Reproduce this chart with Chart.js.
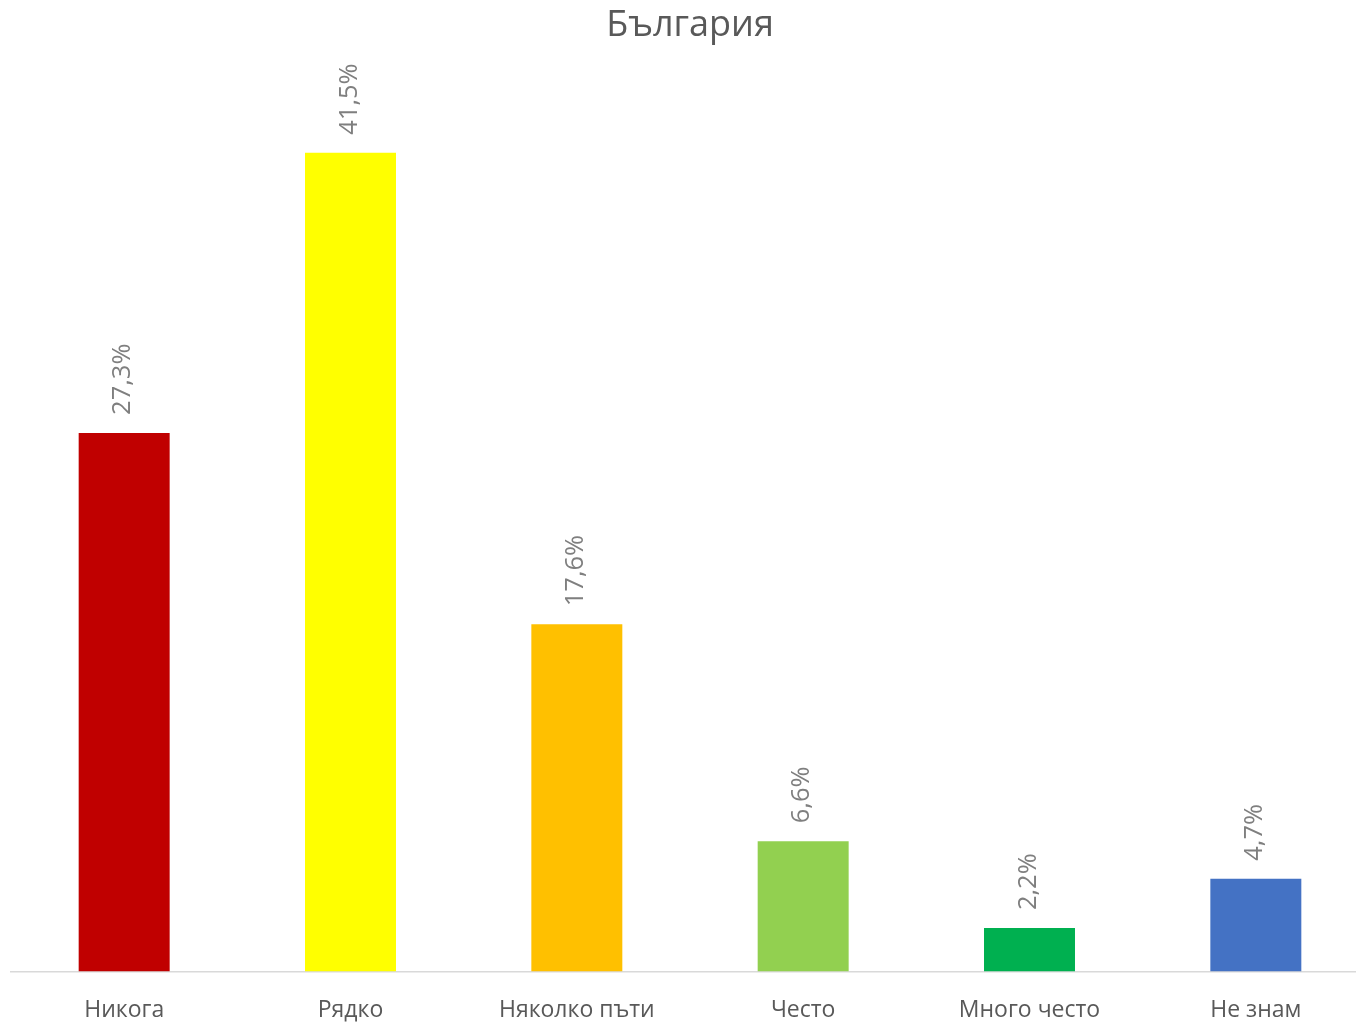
<!DOCTYPE html>
<html>
<head>
<meta charset="utf-8">
<script src="https://cdn.jsdelivr.net/npm/chart.js@4/dist/chart.umd.min.js"></script>
<style>
html, body { margin: 0; padding: 0; background: #fff; overflow: hidden; }
#wrap { position: relative; width: 1369px; height: 1022px; }
</style>
</head>
<body>
<div id="wrap"><canvas id="c" width="1369" height="1022"></canvas></div>
<script>
const categories = ["Никога", "Рядко", "Няколко пъти", "Често", "Много често", "Не знам"];
const values = [27.3, 41.5, 17.6, 6.6, 2.2, 4.7];
const barColors = ["#C00000", "#FFFF00", "#FFC000", "#92D050", "#00B050", "#4472C4"];
const titleText = "България";

const FONT = "'Open Sans', 'Noto Sans', sans-serif";

const labelPlugin = {
  id: 'rotLabels',
  afterDatasetsDraw(chart) {
    const ctx = chart.ctx;
    const meta = chart.getDatasetMeta(0);
    ctx.save();
    ctx.fillStyle = '#7F7F7F';
    ctx.font = "25.5px " + FONT;
    ctx.textAlign = 'left';
    ctx.textBaseline = 'middle';
    meta.data.forEach((bar, i) => {
      const txt = values[i].toFixed(1).replace('.', ',') + '%';
      ctx.save();
      ctx.translate(bar.x - 1, bar.y - 18);
      ctx.rotate(-Math.PI / 2);
      ctx.fillText(txt, 0, 0);
      ctx.restore();
    });
    ctx.restore();
  }
};

new Chart(document.getElementById('c'), {
  type: 'bar',
  data: {
    labels: categories,
    datasets: [{
      data: values,
      backgroundColor: barColors,
      borderWidth: 0,
      barPercentage: 1,
      categoryPercentage: 0.402
    }]
  },
  options: {
    responsive: false,
    animation: false,
    devicePixelRatio: 1,
    layout: { padding: { left: 11, right: 0, top: 0, bottom: 0 } },
    plugins: {
      legend: { display: false },
      tooltip: { enabled: false },
      title: {
        display: true,
        text: titleText,
        color: '#595959',
        font: { family: FONT, size: 36, weight: 'normal' },
        padding: { top: 4.5, bottom: 36 }
      }
    },
    scales: {
      x: {
        grid: { display: false, drawTicks: false },
        border: { display: true, color: '#D9D9D9', width: 1.5 },
        ticks: {
          color: '#595959',
          font: { family: FONT, size: 23 },
          padding: 25,
          maxRotation: 0,
          autoSkip: false
        },
        afterFit(scale) { scale.height = 50.5; }
      },
      y: {
        display: false,
        min: 0,
        max: 45
      }
    }
  },
  plugins: [labelPlugin]
});
</script>
</body>
</html>
